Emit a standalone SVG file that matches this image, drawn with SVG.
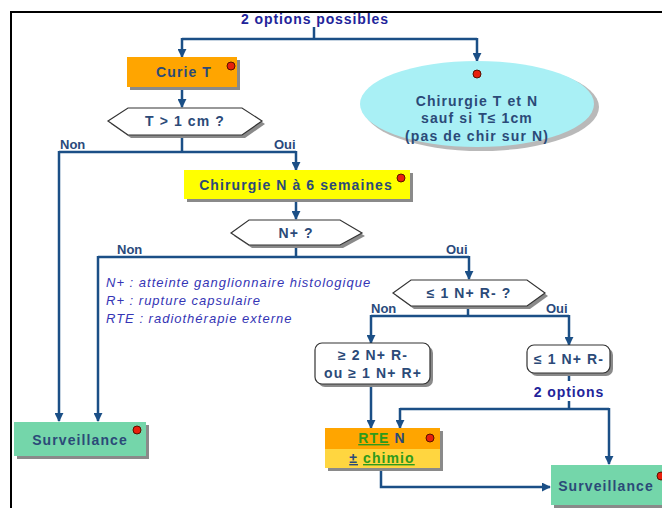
<svg xmlns="http://www.w3.org/2000/svg" width="662" height="508" viewBox="0 0 662 508">
<defs>
<marker id="ah" viewBox="0 0 10 10" refX="9" refY="5" markerWidth="9" markerHeight="9" markerUnits="userSpaceOnUse" orient="auto">
<path d="M0,0 L10,5 L0,10 z" fill="#1b4f86"/>
</marker>
</defs>
<style>
.t{font-family:"Liberation Sans",Arial,sans-serif;font-size:14px;font-weight:bold;fill:#2b4a78;letter-spacing:1.1px}
.lbl{font-family:"Liberation Sans",Arial,sans-serif;font-size:13px;font-weight:bold;fill:#2a4a7c}
.opt{font-family:"Liberation Sans",Arial,sans-serif;font-size:14px;font-weight:bold;fill:#22249a;letter-spacing:0.9px}
.leg{font-family:"Liberation Sans",Arial,sans-serif;font-size:13px;font-style:italic;fill:#3535b5;letter-spacing:1px}
.c{fill:none;stroke:#1b4f86;stroke-width:2.5}
.ca{fill:none;stroke:#1b4f86;stroke-width:2.5;marker-end:url(#ah)}
.sh{fill:#8a8a8a}
.dot{fill:#e8200c;stroke:#5a1000;stroke-width:1}
.hex{fill:#ffffff;stroke:#333333;stroke-width:1.2}
.g{fill:#2e9a1c;text-decoration:underline}
</style>
<rect x="0" y="0" width="662" height="508" fill="#ffffff"/>
<path d="M11,508 V12 H662" fill="none" stroke="#000000" stroke-width="2"/>

<g id="connectors">
<path class="c" d="M314,27 V39"/>
<path class="c" d="M182,39 H477"/>
<path class="ca" d="M182,38 V57"/>
<path class="ca" d="M477,38 V61"/>
<path class="ca" d="M182,87 V107"/>
<path class="c" d="M182,136 V152"/>
<path class="c" d="M59,152 H296"/>
<path class="ca" d="M59,151 V421"/>
<path class="ca" d="M296,151 V170"/>
<path class="ca" d="M296,199 V219"/>
<path class="c" d="M296,245 V257"/>
<path class="c" d="M98,257 H469"/>
<path class="ca" d="M98,256 V421"/>
<path class="ca" d="M469,256 V279"/>
<path class="c" d="M468,306 V316"/>
<path class="c" d="M371,316 H569"/>
<path class="ca" d="M371,315 V343"/>
<path class="ca" d="M569,315 V345"/>
<path class="ca" d="M371,384 V428"/>
<path class="c" d="M569,373 V381"/>
<path class="c" d="M569,401 V409"/>
<path class="c" d="M400,409 H609"/>
<path class="ca" d="M400,408 V428"/>
<path class="ca" d="M609,408 V464"/>
<path class="ca" d="M381,469 V487 H550"/>
</g>

<text class="opt" x="315" y="24" text-anchor="middle">2 options possibles</text>

<g id="curie">
<rect class="sh" x="130" y="60" width="110" height="30"/>
<rect x="127" y="57" width="110" height="30" fill="#ffa500"/>
<text class="t" x="184" y="77" text-anchor="middle">Curie T</text>
<circle class="dot" cx="231" cy="66" r="4"/>
</g>

<g id="chir-tn">
<ellipse cx="481" cy="107" rx="118" ry="44" fill="#8a8a8a" opacity="0.6"/>
<ellipse cx="477" cy="104" rx="117" ry="43" fill="#a9f0f5"/>
<circle class="dot" cx="477" cy="74" r="4"/>
<text class="t" x="477" y="106" text-anchor="middle">Chirurgie T et N</text>
<text class="t" x="477" y="123" text-anchor="middle">sauf si T≤ 1cm</text>
<text class="t" x="477" y="141" text-anchor="middle">(pas de chir sur N)</text>
</g>

<g id="q-t1cm">
<polygon class="sh" points="111,124 131,111 245,111 265,124 245,138 131,138"/>
<polygon class="hex" points="108,121 128,108 242,108 262,121 242,135 128,135"/>
<text class="t" x="185" y="126" text-anchor="middle">T &gt; 1 cm ?</text>
</g>
<text class="lbl" x="60" y="149">Non</text>
<text class="lbl" x="274" y="149">Oui</text>

<g id="chir-n">
<rect class="sh" x="187" y="173" width="226" height="29"/>
<rect x="184" y="170" width="226" height="29" fill="#ffff00"/>
<text class="t" x="296" y="190" text-anchor="middle">Chirurgie N à 6 semaines</text>
<circle class="dot" cx="401" cy="178" r="4"/>
</g>

<g id="q-np">
<polygon class="sh" points="234,236 252,223 343,223 365,236 343,248 252,248"/>
<polygon class="hex" points="231,233 249,220 340,220 362,233 340,245 249,245"/>
<text class="t" x="296" y="238" text-anchor="middle">N+ ?</text>
</g>
<text class="lbl" x="117" y="254">Non</text>
<text class="lbl" x="446" y="254">Oui</text>

<g id="legend">
<text class="leg" x="106" y="287">N+ : atteinte ganglionnaire histologique</text>
<text class="leg" x="106" y="305">R+ : rupture capsulaire</text>
<text class="leg" x="106" y="323">RTE : radiothérapie externe</text>
</g>

<g id="q-1n">
<polygon class="sh" points="396,296 414,283 530,283 548,296 530,309 414,309"/>
<polygon class="hex" points="393,293 411,280 527,280 545,293 527,306 411,306"/>
<text class="t" x="469" y="298" text-anchor="middle">≤ 1 N+ R- ?</text>
</g>
<text class="lbl" x="371" y="313">Non</text>
<text class="lbl" x="546" y="313">Oui</text>

<g id="ge2">
<rect class="sh" x="318" y="346" width="115" height="41" rx="7"/>
<rect class="hex" x="315" y="343" width="115" height="41" rx="7"/>
<text class="t" x="373" y="360" text-anchor="middle">≥ 2 N+ R-</text>
<text class="t" x="373" y="378" text-anchor="middle">ou ≥ 1 N+ R+</text>
</g>

<g id="le1">
<rect class="sh" x="530" y="348" width="83" height="28" rx="7"/>
<rect class="hex" x="527" y="345" width="83" height="28" rx="7"/>
<text class="t" x="569" y="364" text-anchor="middle">≤ 1 N+ R-</text>
</g>
<text class="opt" x="569" y="397" text-anchor="middle">2 options</text>

<g id="surv-left">
<rect class="sh" x="17" y="425" width="132" height="34"/>
<rect x="14" y="422" width="132" height="34" fill="#74d6aa"/>
<text class="t" x="80" y="445" text-anchor="middle">Surveillance</text>
<circle class="dot" cx="137" cy="430" r="4"/>
</g>

<g id="rte">
<rect class="sh" x="328" y="431" width="115" height="40"/>
<rect x="325" y="428" width="115" height="21" fill="#ffa500"/>
<rect x="325" y="449" width="115" height="19" fill="#ffd640"/>
<text class="t" x="382" y="443" text-anchor="middle"><tspan class="g">RTE</tspan> N</text>
<text class="t" x="382" y="463" text-anchor="middle"><tspan text-decoration="underline">±</tspan> <tspan class="g">chimio</tspan></text>
<circle class="dot" cx="430" cy="438" r="4"/>
</g>

<g id="surv-right">
<rect class="sh" x="554" y="468" width="111" height="40"/>
<rect x="551" y="465" width="111" height="40" fill="#74d6aa"/>
<text class="t" x="606" y="491" text-anchor="middle">Surveillance</text>
<circle class="dot" cx="661" cy="476" r="4"/>
</g>
</svg>
